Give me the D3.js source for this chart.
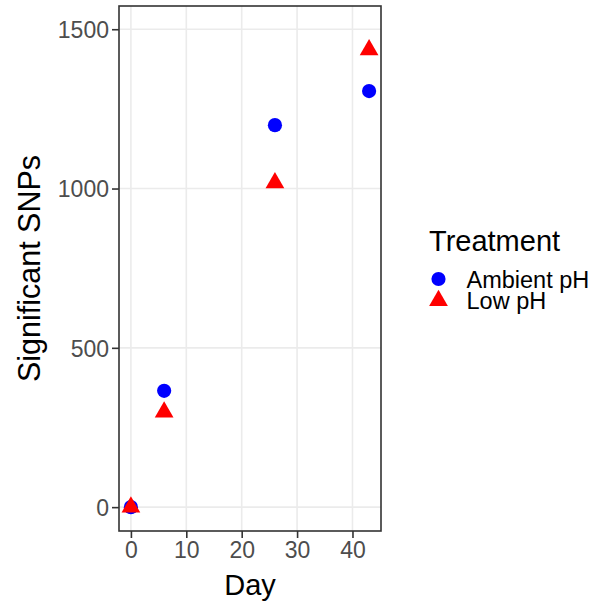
<!DOCTYPE html>
<html>
<head>
<meta charset="utf-8">
<script src="https://cdn.jsdelivr.net/npm/d3@7"></script>
<style>
  body { margin: 0; background: #fff; }
  text { font-family: "Liberation Sans", Arial, Helvetica, sans-serif; }
</style>
</head>
<body>
<div id="chart"></div>
<script>
// values
var days = [0, 6, 26, 43];
var ambientSNPs = [0, 365, 1199, 1306];
var lowSNPs = [0, 298, 1018, 1435];
var treatments = ["Ambient pH", "Low pH"];
var xTicks = [0, 10, 20, 30, 40];
var yTicks = [0, 500, 1000, 1500];

var width = 597, height = 607;
var panel = {left: 119, right: 381, top: 6, bottom: 531};

var svg = d3.select("#chart")
    .append("svg")
    .attr("width", width)
    .attr("height", height);

// scales (ggplot style 5% expansion)
var x = d3.scaleLinear()
    .domain([-2.15, 45.15])
    .range([panel.left, panel.right]);

var y = d3.scaleLinear()
    .domain([-74.9, 1572.9])
    .range([panel.bottom, panel.top]);

var color = d3.scaleOrdinal().domain(treatments).range(["#0000FF", "#FF0000"]);
var shape = d3.scaleOrdinal().domain(treatments).range([d3.symbolCircle, d3.symbolTriangle]);
var size = d3.scaleOrdinal().domain(treatments).range([158, 152]);

// grid
var grid = svg.append("g");
grid.selectAll(".gx")
    .data(xTicks)
    .enter()
    .append("line")
    .attr("x1", d => x(d)).attr("x2", d => x(d))
    .attr("y1", panel.top).attr("y2", panel.bottom)
    .attr("stroke", "#EBEBEB")
    .attr("stroke-width", 1.6);
grid.selectAll(".gy")
    .data(yTicks)
    .enter()
    .append("line")
    .attr("y1", d => y(d)).attr("y2", d => y(d))
    .attr("x1", panel.left).attr("x2", panel.right)
    .attr("stroke", "#EBEBEB")
    .attr("stroke-width", 1.6);

// axes
var xAxis = svg.append("g")
    .attr("transform", "translate(0," + panel.bottom + ")")
    .call(d3.axisBottom(x).tickValues(xTicks).tickFormat(d3.format("d")).tickSize(7).tickPadding(4));
var yAxis = svg.append("g")
    .attr("transform", "translate(" + panel.left + ",0)")
    .call(d3.axisLeft(y).tickValues(yTicks).tickFormat(d3.format("d")).tickSize(7).tickPadding(3));

[xAxis, yAxis].forEach(function(a) {
    a.select(".domain").remove();
    a.selectAll(".tick line").attr("stroke", "#333333").attr("stroke-width", 1.6);
    a.selectAll(".tick text")
        .attr("fill", "#4D4D4D")
        .style("font-size", "23px")
        .style("font-family", "'Liberation Sans', Arial, sans-serif");
});
yAxis.selectAll(".tick text").attr("dy", "0.36em");

// points
var series = [
    {name: "Ambient pH", values: ambientSNPs},
    {name: "Low pH", values: lowSNPs}
];

series.forEach(function(s) {
    svg.append("g")
        .selectAll("path")
        .data(days.map(function(d, i) { return {day: d, snps: s.values[i]}; }))
        .enter()
        .append("path")
        .attr("d", d3.symbol().type(shape(s.name)).size(size(s.name)))
        .attr("transform", d => "translate(" + x(d.day) + "," + y(d.snps) + ")")
        .attr("fill", color(s.name));
});

// panel border
svg.append("rect")
    .attr("x", panel.left)
    .attr("y", panel.top)
    .attr("width", panel.right - panel.left)
    .attr("height", panel.bottom - panel.top)
    .attr("fill", "none")
    .attr("stroke", "#333333")
    .attr("stroke-width", 1.6);

// axis titles
svg.append("text")
    .attr("x", (panel.left + panel.right) / 2)
    .attr("y", 595)
    .attr("text-anchor", "middle")
    .style("font-size", "29px")
    .text("Day");

svg.append("text")
    .attr("transform", "translate(39.5," + ((panel.top + panel.bottom) / 2) + ") rotate(-90)")
    .attr("text-anchor", "middle")
    .style("font-size", "30.5px")
    .text("Significant SNPs");

// legend
var legend = svg.append("g");
legend.append("text")
    .attr("x", 429)
    .attr("y", 251)
    .style("font-size", "29px")
    .text("Treatment");

var items = legend.selectAll(".item")
    .data(treatments)
    .enter()
    .append("g")
    .attr("transform", (d, i) => "translate(438.5," + (279 + i * 21.5) + ")");

items.append("path")
    .attr("d", d => d3.symbol().type(shape(d)).size(size(d))())
    .attr("fill", d => color(d));

items.append("text")
    .attr("x", 28)
    .attr("y", 8.5)
    .style("font-size", "23.5px")
    .text(d => d);
</script>
</body>
</html>
